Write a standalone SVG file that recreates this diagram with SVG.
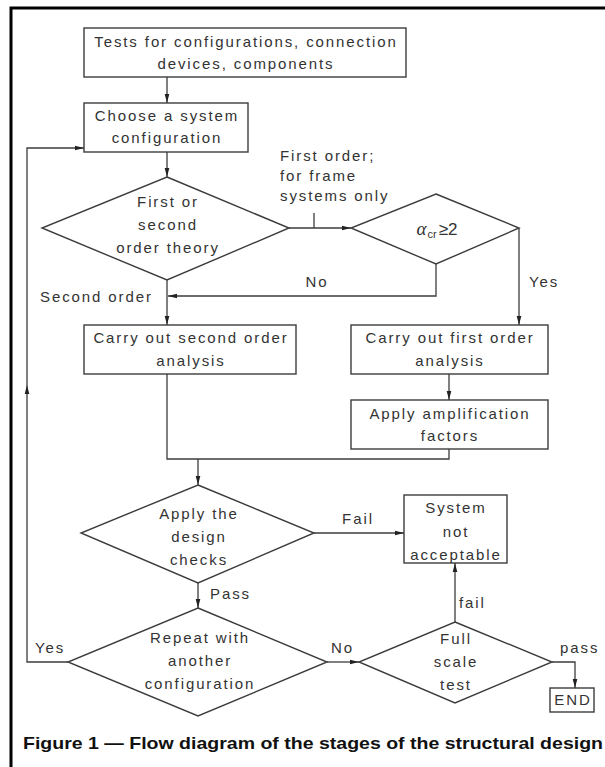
<svg xmlns="http://www.w3.org/2000/svg" width="605" height="767" viewBox="0 0 605 767">
<style>
.shape{fill:#fff;stroke:#3c3c3c;stroke-width:1.4}
.ln{fill:none;stroke:#3c3c3c;stroke-width:1.3}
.t{font-family:"Liberation Sans",Arial,sans-serif;font-size:15px;letter-spacing:1.9px;fill:#333;text-anchor:middle}
.ts{font-family:"Liberation Sans",Arial,sans-serif;font-size:15px;letter-spacing:1.9px;fill:#333;text-anchor:start}
.cap{font-family:"Liberation Sans",Arial,sans-serif;font-size:17px;font-weight:bold;fill:#111}
</style>
<defs>
<marker id="ah" markerUnits="userSpaceOnUse" markerWidth="10" markerHeight="6" refX="9" refY="3" orient="auto">
<path d="M0,0.7 L9,3 L0,5.3 z" fill="#222"/>
</marker>
</defs>
<rect width="605" height="767" fill="#fff"/>
<path d="M11,767 V8 H605" fill="none" stroke="#000" stroke-width="3"/>

<g id="connectors">
<path class="ln" d="M167,77 V103" marker-end="url(#ah)"/>
<path class="ln" d="M167,152 V177" marker-end="url(#ah)"/>
<path class="ln" d="M289,228 H351" marker-end="url(#ah)"/>
<path class="ln" d="M314,213 V228"/>
<path class="ln" d="M436,264 V296 H168" marker-end="url(#ah)"/>
<path class="ln" d="M167,280 V325" marker-end="url(#ah)"/>
<path class="ln" d="M519,228 V325" marker-end="url(#ah)"/>
<path class="ln" d="M449,374 V400" marker-end="url(#ah)"/>
<path class="ln" d="M167,374 V459 H449 V449"/>
<path class="ln" d="M198,459 V485" marker-end="url(#ah)"/>
<path class="ln" d="M314,533 H404" marker-end="url(#ah)"/>
<path class="ln" d="M198,583 V608" marker-end="url(#ah)"/>
<path class="ln" d="M68,662 H27 V385" marker-end="url(#ah)"/>
<path class="ln" d="M27,385 V148 H84" marker-end="url(#ah)"/>
<path class="ln" d="M327,662 H359" marker-end="url(#ah)"/>
<path class="ln" d="M455,622 V563" marker-end="url(#ah)"/>
<path class="ln" d="M552,662 H575 V688" marker-end="url(#ah)"/>
<text class="ts" x="280" y="161">First order;</text>
<text class="ts" x="280" y="181">for frame</text>
<text class="ts" x="280" y="201">systems only</text>
<text class="t" x="317" y="287">No</text>
<text class="ts" x="529" y="287">Yes</text>
<text class="ts" x="40" y="302">Second order</text>
<text class="t" x="358" y="524">Fail</text>
<text class="ts" x="210" y="599">Pass</text>
<text class="ts" x="35" y="653">Yes</text>
<text class="ts" x="331" y="653">No</text>
<text class="ts" x="459" y="608">fail</text>
<text class="ts" x="560" y="653">pass</text>
</g>

<g id="n_tests">
<rect class="shape" x="84" y="28" width="322" height="49"/>
<text class="t" x="246" y="46.5">Tests for configurations, connection</text>
<text class="t" x="246" y="68.5">devices, components</text>
</g>
<g id="n_choose">
<rect class="shape" x="84" y="103" width="164" height="49"/>
<text class="t" x="167" y="121">Choose a system</text>
<text class="t" x="167" y="143">configuration</text>
</g>
<g id="n_theory">
<polygon class="shape" points="167,177 289,228 167,280 42,228"/>
<text class="t" x="168" y="207">First or</text>
<text class="t" x="168" y="230">second</text>
<text class="t" x="168" y="253">order theory</text>
</g>
<g id="n_alpha">
<polygon class="shape" points="436,194 519,228 436,264 351,228"/>
<text x="437" y="235" style="font-family:'Liberation Sans',Arial,sans-serif;font-size:17px;fill:#333;text-anchor:middle"><tspan style="font-style:italic;font-family:'Liberation Serif',serif;font-size:19px">α</tspan><tspan style="font-size:11px" dy="3" dx="1">cr</tspan><tspan dy="-3" dx="2">≥2</tspan></text>
</g>
<g id="n_second">
<rect class="shape" x="84" y="325" width="212" height="49"/>
<text class="t" x="191" y="343">Carry out second order</text>
<text class="t" x="191" y="366">analysis</text>
</g>
<g id="n_first">
<rect class="shape" x="351" y="325" width="197" height="49"/>
<text class="t" x="450" y="343">Carry out first order</text>
<text class="t" x="450" y="366">analysis</text>
</g>
<g id="n_ampl">
<rect class="shape" x="351" y="400" width="197" height="49"/>
<text class="t" x="450" y="419">Apply amplification</text>
<text class="t" x="450" y="441">factors</text>
</g>
<g id="n_checks">
<polygon class="shape" points="198,485 314,533 198,583 81,533"/>
<text class="t" x="199" y="519">Apply the</text>
<text class="t" x="199" y="542">design</text>
<text class="t" x="199" y="565">checks</text>
</g>
<g id="n_notacc">
<rect class="shape" x="404" y="495" width="103" height="68"/>
<text class="t" x="456" y="513">System</text>
<text class="t" x="456" y="537">not</text>
<text class="t" x="456" y="560">acceptable</text>
</g>
<g id="n_repeat">
<polygon class="shape" points="198,608 327,662 198,716 68,662"/>
<text class="t" x="200" y="643">Repeat with</text>
<text class="t" x="200" y="666">another</text>
<text class="t" x="200" y="689">configuration</text>
</g>
<g id="n_full">
<polygon class="shape" points="455,622 552,662 455,703 359,662"/>
<text class="t" x="456" y="644">Full</text>
<text class="t" x="456" y="667">scale</text>
<text class="t" x="456" y="690">test</text>
</g>
<g id="n_end">
<rect class="shape" x="550" y="688" width="44" height="24"/>
<text class="t" x="573" y="705">END</text>
</g>
<text class="cap" x="23" y="749" textLength="580" lengthAdjust="spacingAndGlyphs">Figure 1 — Flow diagram of the stages of the structural design</text>
</svg>
